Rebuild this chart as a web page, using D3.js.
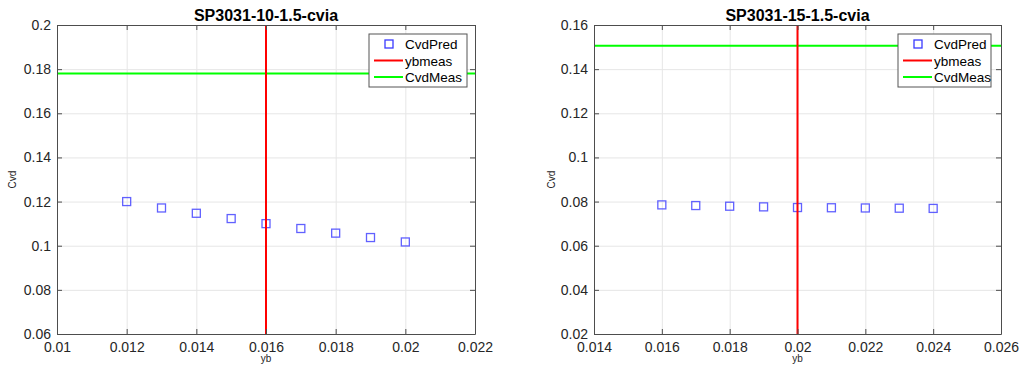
<!DOCTYPE html>
<html>
<head>
<meta charset="utf-8">
<script src="https://cdn.jsdelivr.net/npm/d3@7"></script>
<style>
  body { margin: 0; background: #fff; }
  svg { display: block; font-family: "Liberation Sans", Arial, sans-serif; }
</style>
</head>
<body>
<svg id="chart" width="1024" height="370"></svg>
<script>
// left panel: SP3031-10-1.5-cvia
const ybLeft = [0.012, 0.013, 0.014, 0.015, 0.016, 0.017, 0.018, 0.019, 0.020];
const cvdPredLeft = [0.1200, 0.1171, 0.1147, 0.1123, 0.1100, 0.1078, 0.1057, 0.1037, 0.1017];
const ybMeasLeft = 0.016;
const cvdMeasLeft = 0.178;
const xTicksLeft = [0.010, 0.012, 0.014, 0.016, 0.018, 0.020, 0.022];
const yTicksLeft = [0.06, 0.08, 0.10, 0.12, 0.14, 0.16, 0.18, 0.20];

// right panel: SP3031-15-1.5-cvia
const ybRight = [0.016, 0.017, 0.018, 0.019, 0.020, 0.021, 0.022, 0.023, 0.024];
const cvdPredRight = [0.0785, 0.0782, 0.0779, 0.0776, 0.0773, 0.0772, 0.0771, 0.0770, 0.0769];
const ybMeasRight = 0.020;
const cvdMeasRight = 0.1506;
const xTicksRight = [0.014, 0.016, 0.018, 0.020, 0.022, 0.024, 0.026];
const yTicksRight = [0.02, 0.04, 0.06, 0.08, 0.10, 0.12, 0.14, 0.16];

const titles = ['SP3031-10-1.5-cvia', 'SP3031-15-1.5-cvia'];
const legendNames = ['CvdPred', 'ybmeas', 'CvdMeas'];

const svg = d3.select('#chart');
const fmt = v => String(+v.toFixed(4));   // matlab style: 0.1, 0.2, 0.012

function panel(cfg) {
  const {left, right, top, bottom} = cfg.box;
  const x = d3.scaleLinear().domain(d3.extent(cfg.xTicks)).range([left, right]);
  const y = d3.scaleLinear().domain(d3.extent(cfg.yTicks)).range([bottom, top]);
  const w = right - left, h = bottom - top;
  const g = svg.append('g');

  // grid
  g.append('g')
    .attr('transform', `translate(0,${bottom})`)
    .call(d3.axisBottom(x).tickValues(cfg.xTicks).tickSize(-h).tickFormat(''))
    .call(a => a.select('.domain').remove())
    .selectAll('line').attr('stroke', '#e6e6e6');
  g.append('g')
    .attr('transform', `translate(${left},0)`)
    .call(d3.axisLeft(y).tickValues(cfg.yTicks).tickSize(-w).tickFormat(''))
    .call(a => a.select('.domain').remove())
    .selectAll('line').attr('stroke', '#e6e6e6');

  // clip for the reference lines
  const clipId = 'clip' + cfg.id;
  svg.append('clipPath').attr('id', clipId)
    .append('rect').attr('x', left).attr('y', top).attr('width', w).attr('height', h);

  const plot = g.append('g').attr('clip-path', `url(#${clipId})`);

  // markers
  plot.selectAll('rect.pt')
    .data(cfg.xs.map((v, i) => [v, cfg.ys[i]]))
    .enter().append('rect')
    .attr('class', 'pt')
    .attr('x', d => x(d[0]) - 4)
    .attr('y', d => y(d[1]) - 4)
    .attr('width', 8)
    .attr('height', 8)
    .attr('fill', 'none')
    .attr('stroke', '#3a3aff')
    .attr('stroke-opacity', 0.8)
    .attr('stroke-width', 1.3);

  // measured lines
  plot.append('line')
    .attr('x1', left).attr('x2', right)
    .attr('y1', y(cfg.cvdMeas)).attr('y2', y(cfg.cvdMeas))
    .attr('stroke', '#00ff00').attr('stroke-width', 2);
  plot.append('line')
    .attr('x1', x(cfg.ybMeas)).attr('x2', x(cfg.ybMeas))
    .attr('y1', top).attr('y2', bottom)
    .attr('stroke', '#ff0000').attr('stroke-width', 2);

  // axes with inward ticks on all four sides
  const axisStyle = a => {
    a.select('.domain').attr('stroke', '#4d4d4d');
    a.selectAll('.tick line').attr('stroke', '#4d4d4d');
    a.selectAll('.tick text').attr('fill', '#262626').style('font-size', '14px');
  };
  g.append('g').attr('transform', `translate(0,${bottom})`)
    .call(d3.axisBottom(x).tickValues(cfg.xTicks).tickFormat(fmt).tickSizeInner(-5).tickSizeOuter(0).tickPadding(8))
    .call(axisStyle);
  g.append('g').attr('transform', `translate(0,${top})`)
    .call(d3.axisTop(x).tickValues(cfg.xTicks).tickFormat('').tickSizeInner(-5).tickSizeOuter(0))
    .call(axisStyle);
  g.append('g').attr('transform', `translate(${left},0)`)
    .call(d3.axisLeft(y).tickValues(cfg.yTicks).tickFormat(fmt).tickSizeInner(-5).tickSizeOuter(0).tickPadding(6))
    .call(axisStyle);
  g.append('g').attr('transform', `translate(${right},0)`)
    .call(d3.axisRight(y).tickValues(cfg.yTicks).tickFormat('').tickSizeInner(-5).tickSizeOuter(0))
    .call(axisStyle);

  // title and labels
  g.append('text')
    .attr('x', (left + right) / 2).attr('y', top - 4)
    .attr('text-anchor', 'middle')
    .style('font-size', '16px').style('font-weight', 'bold')
    .attr('fill', '#000')
    .text(cfg.title);
  g.append('text')
    .attr('x', (left + right) / 2).attr('y', bottom + 28)
    .attr('text-anchor', 'middle')
    .style('font-size', '10px').attr('fill', '#262626')
    .text('yb');
  g.append('text')
    .attr('transform', `translate(${cfg.ylabX},${(top + bottom) / 2}) rotate(-90)`)
    .attr('text-anchor', 'middle')
    .style('font-size', '10px').attr('fill', '#262626')
    .text('Cvd');

  // legend
  const lg = g.append('g').attr('transform', `translate(${cfg.legend[0]},${cfg.legend[1]})`);
  const lw = cfg.legendW, lh = 53;
  lg.append('rect')
    .attr('width', lw).attr('height', lh)
    .attr('fill', '#fff').attr('stroke', '#555').attr('stroke-width', 1);
  legendNames.forEach((name, i) => {
    const cy = 10 + i * 16.5;
    if (i === 0) {
      lg.append('rect')
        .attr('x', 16).attr('y', cy - 4).attr('width', 8).attr('height', 8)
        .attr('fill', 'none').attr('stroke', '#3a3aff').attr('stroke-width', 1.3);
    } else {
      lg.append('line')
        .attr('x1', 5).attr('x2', 34).attr('y1', cy).attr('y2', cy)
        .attr('stroke', i === 1 ? '#ff0000' : '#00ff00').attr('stroke-width', 2);
    }
    lg.append('text')
      .attr('x', 36).attr('y', cy + 5)
      .style('font-size', '13.5px').attr('fill', '#000')
      .text(name);
  });
}

panel({
  id: 'L', title: titles[0],
  box: {left: 57, right: 475, top: 25, bottom: 334},
  xs: ybLeft, ys: cvdPredLeft, ybMeas: ybMeasLeft, cvdMeas: cvdMeasLeft,
  xTicks: xTicksLeft, yTicks: yTicksLeft,
  ylabX: 16, legend: [369, 34], legendW: 98
});
panel({
  id: 'R', title: titles[1],
  box: {left: 594, right: 1001, top: 25, bottom: 334},
  xs: ybRight, ys: cvdPredRight, ybMeas: ybMeasRight, cvdMeas: cvdMeasRight,
  xTicks: xTicksRight, yTicks: yTicksRight,
  ylabX: 555, legend: [898, 34], legendW: 93
});
</script>
</body>
</html>
